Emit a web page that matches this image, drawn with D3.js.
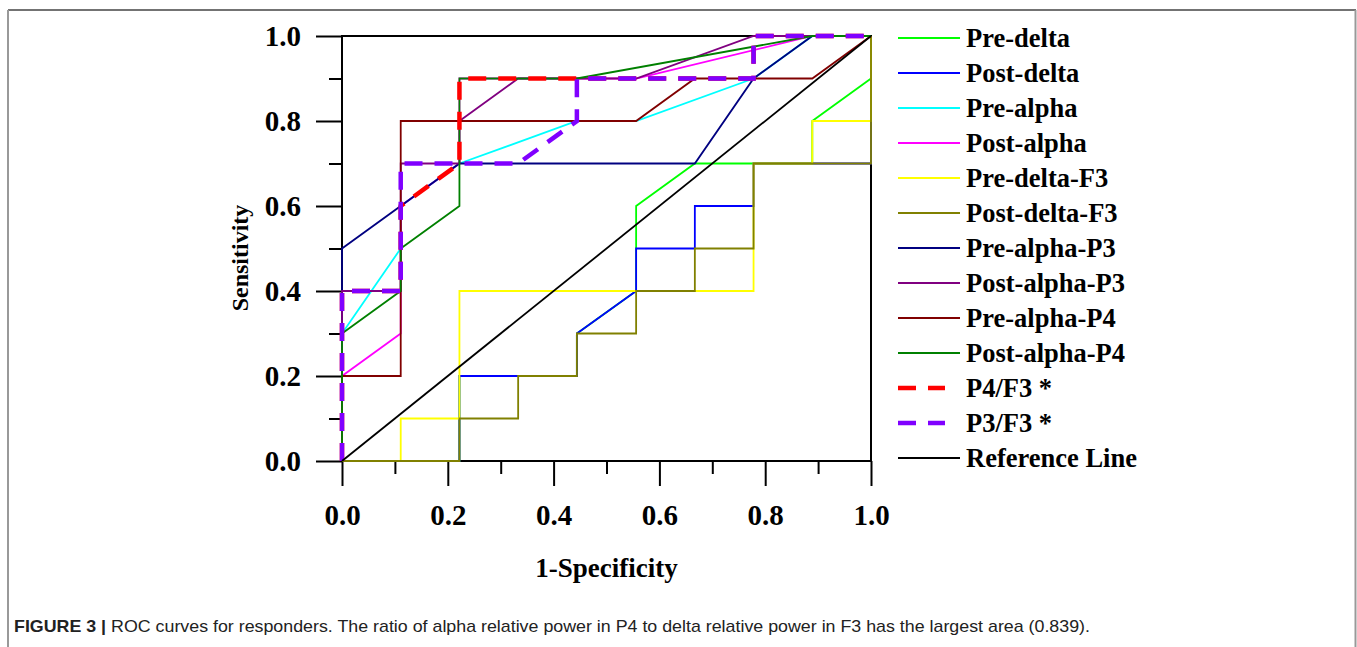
<!DOCTYPE html>
<html>
<head>
<meta charset="utf-8">
<script src="https://d3js.org/d3.v7.min.js"></script>
<style>
  body { margin: 0; background: #fff; }
  .axis text { font-family: "Liberation Serif", "Times New Roman", serif; font-weight: bold; font-size: 29px; fill: #000; }
  .axis line { stroke: #000; stroke-width: 2; }
  .axis path { display: none; }
  .legend text { font-family: "Liberation Serif", "Times New Roman", serif; font-weight: bold; font-size: 26.5px; }
</style>
</head>
<body>
<div id="chart"></div>
<script>
// ROC curves, each point is [1-specificity, sensitivity]
var preDelta      = [[0,0],[0.222,0],[0.222,0.2],[0.444,0.2],[0.444,0.3],[0.556,0.4],[0.556,0.6],[0.667,0.7],[0.889,0.7],[0.889,0.8],[1,0.9],[1,1]];
var postDelta     = [[0,0],[0.222,0],[0.222,0.2],[0.444,0.2],[0.444,0.3],[0.556,0.4],[0.556,0.5],[0.667,0.5],[0.667,0.6],[0.778,0.6],[0.778,0.7],[1,0.7],[1,1]];
var preAlpha      = [[0,0],[0,0.3],[0.111,0.5],[0.111,0.6],[0.222,0.7],[0.444,0.8],[0.556,0.8],[0.778,0.9],[0.889,1],[1,1]];
var postAlpha     = [[0,0],[0,0.2],[0.111,0.3],[0.111,0.6],[0.222,0.7],[0.222,0.9],[0.556,0.9],[0.889,1],[1,1]];
var preDeltaF3    = [[0,0],[0.111,0],[0.111,0.1],[0.222,0.1],[0.222,0.4],[0.778,0.4],[0.778,0.7],[0.889,0.7],[0.889,0.8],[1,0.8],[1,1]];
var postDeltaF3   = [[0,0],[0.222,0],[0.222,0.1],[0.333,0.1],[0.333,0.2],[0.444,0.2],[0.444,0.3],[0.556,0.3],[0.556,0.4],[0.667,0.4],[0.667,0.5],[0.778,0.5],[0.778,0.7],[1,0.7],[1,1]];
var preAlphaP3    = [[0,0],[0,0.5],[0.222,0.7],[0.667,0.7],[0.778,0.9],[0.889,1],[1,1]];
var postAlphaP3   = [[0,0],[0,0.4],[0.111,0.4],[0.111,0.7],[0.222,0.7],[0.222,0.8],[0.333,0.9],[0.556,0.9],[0.778,1],[1,1]];
var preAlphaP4    = [[0,0],[0,0.2],[0.111,0.2],[0.111,0.8],[0.556,0.8],[0.667,0.9],[0.889,0.9],[1,1]];
var postAlphaP4   = [[0,0],[0,0.3],[0.111,0.4],[0.111,0.5],[0.222,0.6],[0.222,0.9],[0.444,0.9],[0.889,1],[1,1]];
var p4F3          = [[0,0],[0,0.4],[0.111,0.4],[0.111,0.6],[0.222,0.7],[0.222,0.9],[0.778,0.9],[0.778,1],[1,1]];
var p3F3          = [[0,0],[0,0.4],[0.111,0.4],[0.111,0.7],[0.333,0.7],[0.444,0.8],[0.444,0.9],[0.778,0.9],[0.778,1],[1,1]];
var refLine       = [[0,0],[1,1]];

var names  = ["Pre-delta","Post-delta","Pre-alpha","Post-alpha","Pre-delta-F3","Post-delta-F3","Pre-alpha-P3","Post-alpha-P3","Pre-alpha-P4","Post-alpha-P4","P4/F3 *","P3/F3 *","Reference Line"];
var curves = [preDelta, postDelta, preAlpha, postAlpha, preDeltaF3, postDeltaF3, preAlphaP3, postAlphaP3, preAlphaP4, postAlphaP4, p4F3, p3F3, refLine];
var colors = ["#00ff00","#0000ff","#00ffff","#ff00ff","#ffff00","#808000","#000080","#800080","#800000","#008000","#ff0000","#8000ff","#000000"];
var dashed = [false,false,false,false,false,false,false,false,false,false,true,true,false];

var majorTicks = [0, 0.2, 0.4, 0.6, 0.8, 1.0];
var minorTicks = [0.1, 0.3, 0.5, 0.7, 0.9];

var width = 1357, height = 647;

var svg = d3.select("#chart").append("svg")
    .attr("width", width)
    .attr("height", height);

// outer figure frame
svg.append("line").attr("x1", 8).attr("y1", 10).attr("x2", 1356).attr("y2", 10)
   .attr("stroke", "#444").attr("stroke-width", 1.5);
svg.append("line").attr("x1", 8).attr("y1", 10).attr("x2", 8).attr("y2", 660)
   .attr("stroke", "#999").attr("stroke-width", 2);
svg.append("line").attr("x1", 1355.5).attr("y1", 10).attr("x2", 1355.5).attr("y2", 660)
   .attr("stroke", "#999").attr("stroke-width", 2);

var x = d3.scaleLinear().domain([0, 1]).range([342, 871]);
var y = d3.scaleLinear().domain([0, 1]).range([461, 36]);

// axes
svg.append("g").attr("class", "axis")
   .attr("transform", "translate(0," + y(0) + ")")
   .call(d3.axisBottom(x).tickValues(majorTicks).tickSize(25).tickPadding(18).tickFormat(d3.format(".1f")));
svg.append("g").attr("class", "axis")
   .attr("transform", "translate(0," + y(0) + ")")
   .call(d3.axisBottom(x).tickValues(minorTicks).tickSize(13).tickFormat(""));
svg.append("g").attr("class", "axis")
   .attr("transform", "translate(" + x(0) + ",0)")
   .call(d3.axisLeft(y).tickValues(majorTicks).tickSize(26).tickPadding(15).tickFormat(d3.format(".1f")));
svg.append("g").attr("class", "axis")
   .attr("transform", "translate(" + x(0) + ",0)")
   .call(d3.axisLeft(y).tickValues(minorTicks).tickSize(13).tickFormat(""));

// plot frame
svg.append("rect")
   .attr("x", x(0)).attr("y", y(1))
   .attr("width", x(1) - x(0)).attr("height", y(0) - y(1))
   .attr("fill", "none").attr("stroke", "#000").attr("stroke-width", 2);

var line = d3.line().x(function(d) { return x(d[0]); }).y(function(d) { return y(d[1]); });

curves.forEach(function(c, i) {
  svg.append("path")
     .attr("d", line(c))
     .attr("fill", "none")
     .attr("stroke", colors[i])
     .attr("stroke-width", dashed[i] ? 4.5 : 1.8)
     .attr("stroke-dasharray", dashed[i] ? "18,12" : null);
});

// axis titles
svg.append("text")
   .attr("x", (x(0) + x(1)) / 2).attr("y", 577)
   .attr("text-anchor", "middle")
   .style("font-family", "'Liberation Serif', 'Times New Roman', serif")
   .style("font-weight", "bold").style("font-size", "27px")
   .text("1-Specificity");
svg.append("text")
   .attr("transform", "translate(248,258) rotate(-90)")
   .attr("text-anchor", "middle")
   .style("font-family", "'Liberation Serif', 'Times New Roman', serif")
   .style("font-weight", "bold").style("font-size", "24px")
   .text("Sensitivity");

// legend
var legend = svg.append("g").attr("class", "legend");
names.forEach(function(n, i) {
  var ly = 38 + i * 35;
  legend.append("line")
     .attr("x1", 898).attr("x2", dashed[i] ? 945 : 960)
     .attr("y1", ly).attr("y2", ly)
     .attr("stroke", colors[i])
     .attr("stroke-width", dashed[i] ? 4.5 : 1.8)
     .attr("stroke-dasharray", dashed[i] ? "18,12" : null);
  legend.append("text")
     .attr("x", 966).attr("y", ly + 9)
     .text(n);
});

// caption
var cap = svg.append("text")
   .attr("x", 14).attr("y", 632)
   .attr("textLength", 1076).attr("lengthAdjust", "spacingAndGlyphs")
   .style("font-family", "'Liberation Sans Narrow', 'Liberation Sans', Arial, sans-serif")
   .style("font-size", "17px").style("fill", "#222");
cap.append("tspan").style("font-weight", "bold").text("FIGURE 3 | ");
cap.append("tspan").text("ROC curves for responders. The ratio of alpha relative power in P4 to delta relative power in F3 has the largest area (0.839).");
</script>
</body>
</html>
